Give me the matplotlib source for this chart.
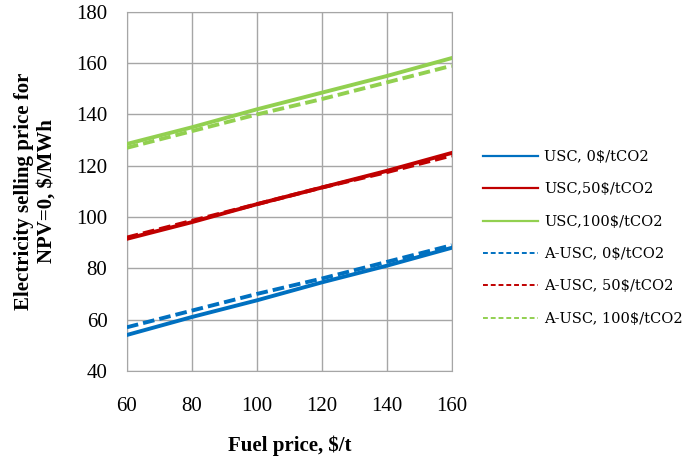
import matplotlib
matplotlib.use("Agg")
import matplotlib.pyplot as plt
from matplotlib.lines import Line2D

plt.rcParams['font.family'] = ['Liberation Serif', 'DejaVu Serif']

fuel = [60, 80, 100, 120, 140, 160]
usc_0 = [54.0, 61.0, 67.5, 74.5, 81.0, 88.0]
usc_50 = [91.5, 98.0, 105.0, 111.5, 118.0, 125.0]
usc_100 = [128.5, 135.0, 142.0, 148.5, 155.0, 162.0]
ausc_0 = [57.0, 63.5, 70.0, 76.0, 82.5, 89.0]
ausc_50 = [92.0, 98.5, 105.0, 111.5, 117.5, 124.0]
ausc_100 = [127.0, 133.5, 140.0, 146.0, 152.5, 159.0]

labels = ["USC, 0$/tCO2", "USC,50$/tCO2", "USC,100$/tCO2",
          "A-USC, 0$/tCO2", "A-USC, 50$/tCO2", "A-USC, 100$/tCO2"]

BLUE, RED, GREEN = "#0070C0", "#C00000", "#92D050"
series = [
    (usc_0, BLUE, "-"), (usc_50, RED, "-"), (usc_100, GREEN, "-"),
    (ausc_0, BLUE, "--"), (ausc_50, RED, "--"), (ausc_100, GREEN, "--"),
]

fig = plt.figure(figsize=(6.97, 4.59), dpi=100)
ax = fig.add_axes([0.182, 0.192, 0.466, 0.782])

handles = []
for (vals, col, ls), lab in zip(series, labels):
    if ls == "--":
        ax.plot(fuel, vals, color=col, linewidth=2.8, linestyle=(0, (3.0, 1.3)),
                zorder=3)
        handles.append(Line2D([], [], color=col, linewidth=1.4, linestyle=(0, (2.5, 1.5))))
    else:
        ax.plot(fuel, vals, color=col, linewidth=2.8, zorder=3)
        handles.append(Line2D([], [], color=col, linewidth=1.6))

ax.set_xlim(60, 160)
ax.set_ylim(40, 180)
ax.set_xticks(fuel)
ax.set_yticks(range(40, 181, 20))
ax.tick_params(length=0, labelsize=15)
ax.tick_params(axis="x", pad=19)
ax.tick_params(axis="y", pad=14)
ax.grid(True, color="#A6A6A6", linewidth=1.0)
for sp in ax.spines.values():
    sp.set_color("#A6A6A6")

ax.set_xlabel("Fuel price, $/t", fontsize=15, fontweight="bold", labelpad=14)
ax.set_ylabel("Electricity selling price for\nNPV=0, $/MWh", fontsize=15,
              fontweight="bold", labelpad=14)

fig.legend(handles, labels, loc="upper left", bbox_to_anchor=(0.674, 0.702),
           frameon=False, prop={"family": "DejaVu Serif", "size": 10.5},
           handlelength=3.8, handletextpad=0.4, labelspacing=1.26)

fig.savefig("out.png", dpi=100)
